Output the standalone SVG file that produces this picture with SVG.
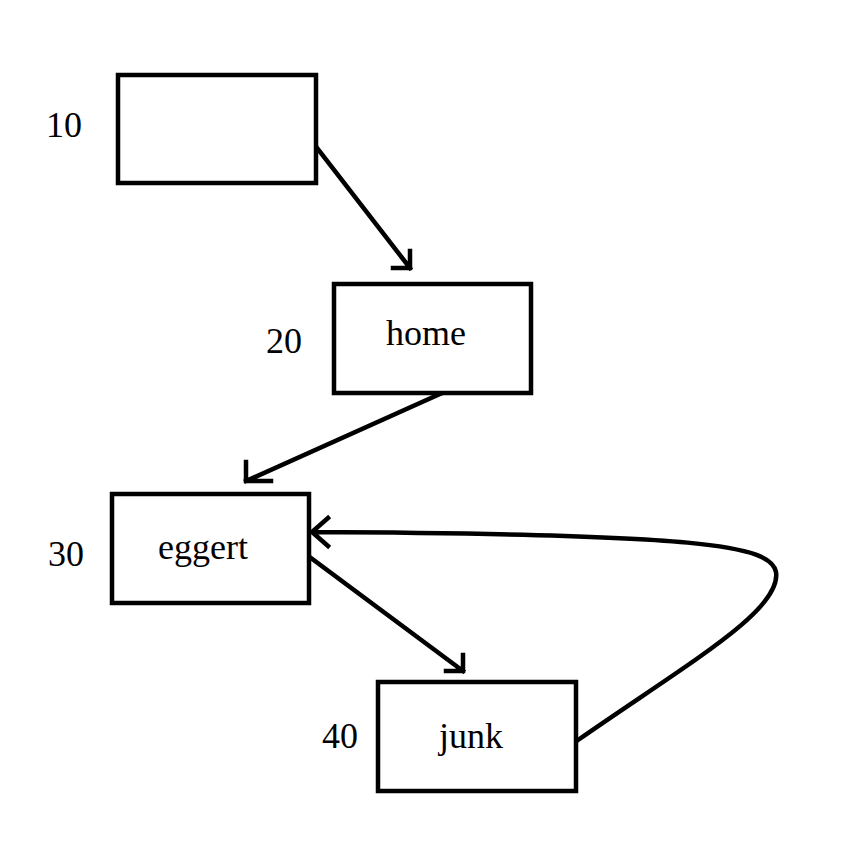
<svg xmlns="http://www.w3.org/2000/svg" width="849" height="859" viewBox="0 0 849 859">
<style>
.box{fill:#fff;stroke:#000;stroke-width:4.5}
.t{font-family:"Liberation Serif","Times New Roman",serif;font-size:36px;fill:#000;text-anchor:middle}
.c{fill:none;stroke:#000;stroke-width:4.5;stroke-linecap:square}
</style>
<rect width="849" height="859" fill="#fff"/>
<g id="connectors">
<path class="c" d="M317,148 L410,268 M393,268 L410,268 L410,251"/>
<path class="c" d="M440,394 L246,481 M246,462 L246,481 L271,481"/>
<path class="c" d="M311,558 L463,671 M446,671 L463,671 L463,655"/>
<path class="c" d="M578,740 C690,662 782,610 776,572 C771,545 700,534 312,532 M328,518 L312,532 L328,546"/>
</g>
<g id="n10">
<rect class="box" x="118" y="75" width="198" height="108"/>
<text class="t" x="64" y="137">10</text>
</g>
<g id="n20">
<rect class="box" x="334" y="284" width="197" height="109"/>
<text class="t" x="426" y="345">home</text>
<text class="t" x="284" y="353">20</text>
</g>
<g id="n30">
<rect class="box" x="112" y="494" width="197" height="109"/>
<text class="t" x="203" y="559">eggert</text>
<text class="t" x="66" y="566">30</text>
</g>
<g id="n40">
<rect class="box" x="378" y="682" width="198" height="109"/>
<text class="t" x="471" y="748">junk</text>
<text class="t" x="340" y="748">40</text>
</g>
</svg>
